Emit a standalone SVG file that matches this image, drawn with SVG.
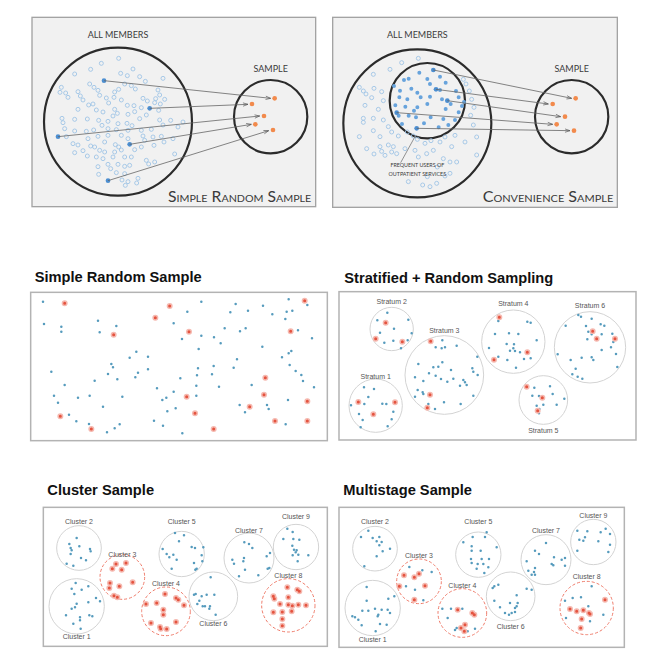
<svg xmlns="http://www.w3.org/2000/svg" xmlns:xlink="http://www.w3.org/1999/xlink" width="659" height="666" viewBox="0 0 659 666">
<style>
.tp{fill:#f1f1f1;stroke:#a3a3a3;stroke-width:4}
.bc{fill:none;stroke:#2b2b2b;stroke-width:6.5}
.tx{font-family:Lato,"Open Sans","Liberation Sans",sans-serif;fill:#3a3a3a;text-anchor:middle;font-size:27px}
.sc{font-family:Lato,"Open Sans","Liberation Sans",sans-serif;fill:#3a3a3a;font-variant:small-caps;font-size:44px}
.o circle{r:6px}
.o{fill:none;stroke:#9cc3e6;stroke-width:2.6}
.org{fill:#f28a4c}
.og{fill:#4d8fd1}
.fd{fill:none;stroke:#67a3dc;stroke-width:12;stroke-linecap:round}
.cn{fill:none;stroke:#666;stroke-width:2.4;marker-end:url(#ah)}
.pn{fill:#fff;stroke:#b3b3b3;stroke-width:4.5}
.tt{font-family:"Liberation Sans",Arial,sans-serif;font-weight:bold;font-size:44px;fill:#111}
.lb{font-family:"Liberation Sans",Arial,sans-serif;font-size:21px;fill:#555;text-anchor:middle}
.cg{fill:none;stroke:#d3d3d3;stroke-width:3}
.cr{fill:none;stroke:#ee7a69;stroke-width:3;stroke-dasharray:9 6}
.bd{fill:none;stroke:#569BBD;stroke-width:7.6;stroke-linecap:round}
.rh{fill:none;stroke:#f5b9b0;stroke-width:18;stroke-linecap:round}
.rc{fill:none;stroke:#e4533f;stroke-width:9;stroke-linecap:round}
</style>
<defs>
<marker id="ah" markerUnits="userSpaceOnUse" markerWidth="16" markerHeight="12" refX="15" refY="5" orient="auto" overflow="visible">
<path d="M0,0 L15,5 L0,10" fill="none" stroke="#555" stroke-width="2"/>
</marker>
</defs>

<!-- Top-left: simple random sample diagram -->
<g id="top-srs" transform="translate(28,10) scale(0.33333)">
<rect class="tp" x="12" y="22" width="851" height="568"/>
<text class="tx" x="270" y="84">ALL MEMBERS</text>
<text class="tx" x="728" y="187">SAMPLE</text>
<circle class="bc" cx="270" cy="335" r="222"/>
<circle class="bc" cx="728" cy="320" r="110"/>
<g class="o">
<circle cx="272" cy="145" r="6"/><circle cx="220" cy="160" r="6"/><circle cx="188" cy="178" r="6"/><circle cx="315" cy="177" r="6"/><circle cx="140" cy="192" r="6"/><circle cx="278" cy="190" r="6"/><circle cx="298" cy="197" r="6"/><circle cx="405" cy="205" r="6"/><circle cx="352" cy="214" r="6"/><circle cx="335" cy="200" r="6"/><circle cx="100" cy="232" r="6"/><circle cx="96" cy="247" r="6"/><circle cx="113" cy="249" r="6"/><circle cx="120" cy="262" r="6"/><circle cx="150" cy="245" r="6"/><circle cx="157" cy="258" r="6"/><circle cx="185" cy="222" r="6"/><circle cx="198" cy="232" r="6"/><circle cx="210" cy="241" r="6"/><circle cx="260" cy="246" r="6"/><circle cx="272" cy="238" r="6"/><circle cx="258" cy="262" r="6"/><circle cx="290" cy="222" r="6"/><circle cx="310" cy="227" r="6"/><circle cx="322" cy="237" r="6"/><circle cx="345" cy="265" r="6"/><circle cx="358" cy="273" r="6"/><circle cx="390" cy="240" r="6"/><circle cx="395" cy="255" r="6"/><circle cx="383" cy="266" r="6"/><circle cx="380" cy="278" r="6"/><circle cx="397" cy="282" r="6"/><circle cx="410" cy="268" r="6"/><circle cx="165" cy="270" r="6"/><circle cx="182" cy="285" r="6"/><circle cx="195" cy="282" r="6"/><circle cx="215" cy="256" r="6"/><circle cx="235" cy="264" r="6"/><circle cx="242" cy="279" r="6"/><circle cx="280" cy="270" r="6"/><circle cx="298" cy="286" r="6"/><circle cx="318" cy="287" r="6"/><circle cx="340" cy="293" r="6"/><circle cx="392" cy="301" r="6"/><circle cx="150" cy="298" r="6"/><circle cx="205" cy="300" r="6"/><circle cx="225" cy="306" r="6"/><circle cx="260" cy="298" r="6"/><circle cx="300" cy="313" r="6"/><circle cx="320" cy="305" r="6"/><circle cx="335" cy="326" r="6"/><circle cx="355" cy="315" r="6"/><circle cx="395" cy="330" r="6"/><circle cx="428" cy="331" r="6"/><circle cx="465" cy="336" r="6"/><circle cx="102" cy="325" r="6"/><circle cx="105" cy="338" r="6"/><circle cx="140" cy="328" r="6"/><circle cx="178" cy="327" r="6"/><circle cx="212" cy="331" r="6"/><circle cx="240" cy="334" r="6"/><circle cx="270" cy="341" r="6"/><circle cx="297" cy="340" r="6"/><circle cx="312" cy="347" r="6"/><circle cx="255" cy="318" r="6"/><circle cx="268" cy="310" r="6"/><circle cx="222" cy="346" r="6"/><circle cx="240" cy="356" r="6"/><circle cx="265" cy="359" r="6"/><circle cx="300" cy="361" r="6"/><circle cx="340" cy="361" r="6"/><circle cx="370" cy="358" r="6"/><circle cx="405" cy="345" r="6"/><circle cx="450" cy="351" r="6"/><circle cx="110" cy="356" r="6"/><circle cx="140" cy="363" r="6"/><circle cx="175" cy="364" r="6"/><circle cx="197" cy="360" r="6"/><circle cx="180" cy="386" r="6"/><circle cx="210" cy="379" r="6"/><circle cx="240" cy="376" r="6"/><circle cx="280" cy="376" r="6"/><circle cx="300" cy="386" r="6"/><circle cx="345" cy="378" r="6"/><circle cx="375" cy="381" r="6"/><circle cx="400" cy="379" r="6"/><circle cx="408" cy="396" r="6"/><circle cx="435" cy="386" r="6"/><circle cx="150" cy="405" r="6"/><circle cx="165" cy="422" r="6"/><circle cx="188" cy="408" r="6"/><circle cx="200" cy="411" r="6"/><circle cx="215" cy="421" r="6"/><circle cx="230" cy="396" r="6"/><circle cx="262" cy="404" r="6"/><circle cx="272" cy="411" r="6"/><circle cx="280" cy="420" r="6"/><circle cx="320" cy="419" r="6"/><circle cx="340" cy="411" r="6"/><circle cx="350" cy="391" r="6"/><circle cx="378" cy="406" r="6"/><circle cx="440" cy="432" r="6"/><circle cx="140" cy="428" r="6"/><circle cx="178" cy="438" r="6"/><circle cx="205" cy="441" r="6"/><circle cx="225" cy="446" r="6"/><circle cx="255" cy="441" r="6"/><circle cx="290" cy="441" r="6"/><circle cx="310" cy="441" r="6"/><circle cx="355" cy="451" r="6"/><circle cx="362" cy="462" r="6"/><circle cx="380" cy="456" r="6"/><circle cx="210" cy="470" r="6"/><circle cx="240" cy="463" r="6"/><circle cx="248" cy="476" r="6"/><circle cx="270" cy="463" r="6"/><circle cx="290" cy="469" r="6"/><circle cx="305" cy="466" r="6"/><circle cx="265" cy="488" r="6"/><circle cx="290" cy="491" r="6"/><circle cx="212" cy="493" r="6"/><circle cx="282" cy="510" r="6"/><circle cx="330" cy="505" r="6"/><circle cx="300" cy="515" r="6"/><circle cx="326" cy="519" r="6"/><circle cx="292" cy="526" r="6"/><circle cx="260" cy="426" r="6"/><circle cx="230" cy="426" r="6"/><circle cx="115" cy="380" r="6"/><circle cx="135" cy="401" r="6"/>
</g>
<g class="og"><circle cx="228" cy="212" r="7"/><circle cx="365" cy="295" r="7"/><circle cx="90" cy="380" r="7"/><circle cx="305" cy="403" r="7"/><circle cx="240" cy="512" r="7"/></g>
<g class="org"><circle cx="740" cy="265" r="7"/><circle cx="672" cy="282" r="7"/><circle cx="708" cy="318" r="7"/><circle cx="682" cy="343" r="7"/><circle cx="735" cy="360" r="7"/></g>
<text class="sc" x="420" y="577" textLength="430" lengthAdjust="spacingAndGlyphs">Simple Random Sample</text>
</g>

<!-- Top-right: convenience sample diagram -->
<g id="top-conv" transform="translate(330,10) scale(0.33333)">
<rect class="tp" x="8" y="22" width="854" height="570"/>
<text class="tx" x="262" y="84">ALL MEMBERS</text>
<text class="tx" x="725" y="187">SAMPLE</text>
<circle class="bc" cx="262" cy="340" r="222"/>
<circle class="bc" cx="292" cy="272" r="113"/>
<circle class="bc" cx="725" cy="320" r="110"/>
<g class="o">
<circle cx="265" cy="145" r="6"/><circle cx="215" cy="158" r="6"/><circle cx="180" cy="178" r="6"/><circle cx="130" cy="193" r="6"/><circle cx="400" cy="208" r="6"/><circle cx="88" cy="232" r="6"/><circle cx="100" cy="243" r="6"/><circle cx="108" cy="252" r="6"/><circle cx="132" cy="235" r="6"/><circle cx="125" cy="263" r="6"/><circle cx="155" cy="245" r="6"/><circle cx="160" cy="272" r="6"/><circle cx="105" cy="286" r="6"/><circle cx="145" cy="298" r="6"/><circle cx="100" cy="325" r="6"/><circle cx="100" cy="337" r="6"/><circle cx="130" cy="325" r="6"/><circle cx="160" cy="330" r="6"/><circle cx="88" cy="380" r="6"/><circle cx="130" cy="362" r="6"/><circle cx="175" cy="350" r="6"/><circle cx="185" cy="366" r="6"/><circle cx="150" cy="380" r="6"/><circle cx="205" cy="378" r="6"/><circle cx="232" cy="366" r="6"/><circle cx="250" cy="378" r="6"/><circle cx="262" cy="388" r="6"/><circle cx="285" cy="400" r="6"/><circle cx="303" cy="392" r="6"/><circle cx="330" cy="396" r="6"/><circle cx="345" cy="381" r="6"/><circle cx="375" cy="376" r="6"/><circle cx="365" cy="410" r="6"/><circle cx="405" cy="396" r="6"/><circle cx="430" cy="345" r="6"/><circle cx="422" cy="316" r="6"/><circle cx="440" cy="435" r="6"/><circle cx="150" cy="410" r="6"/><circle cx="175" cy="405" r="6"/><circle cx="190" cy="410" r="6"/><circle cx="185" cy="426" r="6"/><circle cx="165" cy="436" r="6"/><circle cx="155" cy="424" r="6"/><circle cx="200" cy="431" r="6"/><circle cx="225" cy="416" r="6"/><circle cx="255" cy="421" r="6"/><circle cx="265" cy="441" r="6"/><circle cx="290" cy="431" r="6"/><circle cx="310" cy="421" r="6"/><circle cx="340" cy="446" r="6"/><circle cx="360" cy="456" r="6"/><circle cx="380" cy="456" r="6"/><circle cx="322" cy="471" r="6"/><circle cx="235" cy="515" r="6"/><circle cx="292" cy="500" r="6"/><circle cx="320" cy="520" r="6"/><circle cx="300" cy="530" r="6"/><circle cx="278" cy="525" r="6"/><circle cx="132" cy="432" r="6"/><circle cx="110" cy="416" r="6"/><circle cx="360" cy="490" r="6"/><circle cx="345" cy="498" r="6"/><circle cx="432" cy="292" r="6"/><circle cx="425" cy="268" r="6"/><circle cx="440" cy="381" r="6"/><circle cx="418" cy="243" r="6"/><circle cx="408" cy="222" r="6"/>
</g>
<path class="fd" d="M268,188h0M222,210h0M236,206h0M192,228h0M210,242h0M244,236h0M262,248h0M300,222h0M330,200h0M347,218h0M378,243h0M386,262h0M402,276h0M208,262h0M232,268h0M272,262h0M300,260h0M336,268h0M362,282h0M396,288h0M196,286h0M262,292h0M292,282h0M347,297h0M386,307h0M206,317h0M236,317h0M258,322h0M302,322h0M340,327h0M216,342h0M282,340h0M326,352h0M355,345h0M375,330h0M252,302h0M226,290h0M330,240h0M292,207h0"/>
<g class="og"><circle cx="310" cy="180" r="7"/><circle cx="318" cy="238" r="7"/><circle cx="352" cy="272" r="7"/><circle cx="200" cy="308" r="7"/><circle cx="260" cy="355" r="7"/></g>
<g class="org"><circle cx="737" cy="265" r="7"/><circle cx="668" cy="282" r="7"/><circle cx="705" cy="320" r="7"/><circle cx="680" cy="343" r="7"/><circle cx="732" cy="362" r="7"/></g>
<line x1="212" y1="458" x2="256" y2="378" stroke="#777" stroke-width="2.4"/>
<text class="tx" x="262" y="470" style="font-size:16px">FREQUENT USERS OF</text>
<text class="tx" x="262" y="497" style="font-size:16px">OUTPATIENT SERVICES</text>
<text class="sc" x="458" y="577" textLength="392" lengthAdjust="spacingAndGlyphs">Convenience Sample</text>
</g>

<!-- connectors of the top diagrams -->
<g id="connectors">
<g transform="translate(28,10) scale(0.33333)">
<path class="cn" d="M228,212 L728,265"/>
<path class="cn" d="M365,295 L660,283"/>
<path class="cn" d="M90,380 L695,318"/>
<path class="cn" d="M305,403 L670,343"/>
<path class="cn" d="M240,512 L722,362"/>
</g>
<g transform="translate(330,10) scale(0.33333)">
<path class="cn" d="M310,180 L725,265"/>
<path class="cn" d="M318,238 L655,282"/>
<path class="cn" d="M352,272 L692,320"/>
<path class="cn" d="M200,308 L668,343"/>
<path class="cn" d="M260,355 L720,362"/>
</g>
</g>

<!-- Simple Random Sample panel -->
<g id="panel-srs" transform="translate(28,260) scale(0.33333)">
<text class="tt" x="20" y="65">Simple Random Sample</text>
<rect class="pn" x="8" y="97" width="890" height="445"/>
<path class="bd" d="M45,125h0M48,192h0M100,200h0M100,215h0M210,182h0M215,217h0M265,198h0M70,335h0M110,375h0M78,407h0M90,428h0M150,413h0M185,407h0M200,362h0M240,342h0M250,312h0M255,322h0M268,358h0M305,293h0M325,275h0M360,290h0M360,328h0M330,338h0M322,352h0M283,410h0M225,440h0M123,464h0M145,484h0M183,492h0M237,517h0M260,505h0M275,493h0M378,482h0M405,497h0M463,520h0M418,454h0M443,445h0M437,395h0M403,420h0M415,413h0M387,385h0M457,355h0M505,377h0M505,407h0M507,346h0M510,325h0M552,343h0M557,318h0M573,380h0M617,323h0M627,298h0M512,267h0M520,227h0M558,232h0M578,250h0M462,237h0M437,190h0M478,155h0M520,125h0M607,157h0M623,132h0M660,152h0M705,137h0M733,163h0M590,205h0M636,214h0M653,205h0M703,260h0M762,292h0M782,280h0M790,273h0M785,315h0M803,333h0M820,345h0M825,363h0M858,382h0M780,420h0M717,435h0M722,447h0M671,375h0M635,435h0M651,457h0M773,493h0M782,118h0M776,155h0M793,152h0M772,177h0M810,211h0M838,135h0M852,235h0"/>
<path class="rh" d="M110,130h0M425,138h0M382,173h0M483,215h0M257,224h0M788,214h0M830,122h0M712,353h0M708,404h0M476,410h0M665,440h0M838,424h0M501,460h0M97,469h0M190,507h0M557,507h0M741,483h0M838,483h0"/>
<path class="rc" d="M110,130h0M425,138h0M382,173h0M483,215h0M257,224h0M788,214h0M830,122h0M712,353h0M708,404h0M476,410h0M665,440h0M838,424h0M501,460h0M97,469h0M190,507h0M557,507h0M741,483h0M838,483h0"/>
</g>

<!-- Stratified + Random Sampling panel -->
<g id="panel-strat" transform="translate(335,260) scale(0.33333)">
<text class="tt" x="28" y="68">Stratified + Random Sampling</text>
<rect class="pn" x="12" y="95" width="891" height="445"/>
<g id="stratum-2"><circle class="cg" cx="170" cy="207" r="65"/><text class="lb" x="170" y="132">Stratum 2</text>
<path class="bd" d="M157,158h0M127,181h0M220,179h0M177,206h0M135,218h0M230,220h0M148,248h0M175,242h0M218,241h0M198,265h0"/>
<path class="rh" d="M152,188h0M122,236h0M202,245h0"/><path class="rc" d="M152,188h0M122,236h0M202,245h0"/></g>
<g id="stratum-3"><circle class="cg" cx="328" cy="345" r="118"/><text class="lb" x="328" y="220">Stratum 3</text>
<path class="bd" d="M322,241h0M302,262h0M320,265h0M330,262h0M365,257h0M427,290h0M250,312h0M322,307h0M310,320h0M295,322h0M348,330h0M282,340h0M302,347h0M412,325h0M415,335h0M240,352h0M265,363h0M318,357h0M355,356h0M337,365h0M385,360h0M390,367h0M395,375h0M375,377h0M428,345h0M248,390h0M265,402h0M240,410h0M415,407h0M280,432h0M327,427h0M377,432h0M300,447h0M263,397h0"/>
<path class="rh" d="M287,244h0M285,404h0M277,443h0"/><path class="rc" d="M287,244h0M285,404h0M277,443h0"/></g>
<g id="stratum-1"><circle class="cg" cx="122" cy="437" r="80"/><text class="lb" x="122" y="357">Stratum 1</text>
<path class="bd" d="M87,382h0M117,387h0M100,411h0M48,436h0M88,432h0M142,431h0M154,432h0M72,462h0M175,455h0M83,480h0M170,478h0M77,502h0M158,499h0"/>
<path class="rh" d="M70,426h0M180,427h0M115,463h0"/><path class="rc" d="M70,426h0M180,427h0M115,463h0"/></g>
<g id="stratum-4"><circle class="cg" cx="535" cy="245" r="95"/><text class="lb" x="535" y="138">Stratum 4</text>
<path class="bd" d="M490,183h0M577,185h0M587,188h0M480,222h0M522,220h0M550,222h0M605,241h0M462,264h0M515,252h0M537,253h0M535,265h0M525,272h0M540,273h0M555,277h0M490,290h0M517,300h0M567,297h0M587,295h0M543,323h0"/>
<path class="rh" d="M493,172h0M577,277h0M477,299h0"/><path class="rc" d="M493,172h0M577,277h0M477,299h0"/></g>
<g id="stratum-6"><circle class="cg" cx="765" cy="262" r="107"/><text class="lb" x="765" y="145">Stratum 6</text>
<path class="bd" d="M730,165h0M738,170h0M692,197h0M753,198h0M770,176h0M797,193h0M808,197h0M832,221h0M800,223h0M770,223h0M760,215h0M757,238h0M835,246h0M828,262h0M800,270h0M843,282h0M740,293h0M707,300h0M770,292h0M775,300h0M668,283h0M847,321h0M722,326h0M712,343h0M728,350h0M742,356h0"/>
<path class="rh" d="M773,214h0M785,236h0M840,236h0"/><path class="rc" d="M773,214h0M785,236h0M840,236h0"/></g>
<g id="stratum-5"><circle class="cg" cx="625" cy="420" r="73"/><text class="lb" x="625" y="518">Stratum 5</text>
<path class="bd" d="M598,383h0M645,379h0M592,407h0M612,408h0M653,402h0M688,416h0M605,437h0M625,434h0M665,434h0M613,447h0M612,460h0"/>
<path class="rh" d="M575,380h0M622,413h0M608,452h0"/><path class="rc" d="M575,380h0M622,413h0M608,452h0"/></g>
</g>

<!-- Cluster Sample panel -->
<g id="panel-cluster" transform="translate(40,478) scale(0.33333)">
<text class="tt" x="22" y="50">Cluster Sample</text>
<rect class="pn" x="10" y="88" width="852" height="417"/>
<g id="cs-cluster-2"><circle class="cg" cx="117" cy="210" r="67"/><text class="lb" x="117" y="139">Cluster 2</text>
<path class="bd" d="M110,180h0M88,198h0M118,205h0M92,210h0M95,217h0M150,213h0M152,220h0M92,228h0M123,240h0M138,247h0M80,257h0M100,263h0"/></g>
<g id="cs-cluster-3"><circle class="cr" cx="247" cy="297" r="67"/><text class="lb" x="247" y="237">Cluster 3</text>
<path class="rh" d="M228,258h0M258,255h0M217,272h0M245,275h0M210,315h0M238,325h0M278,313h0M208,330h0M222,353h0M232,358h0"/><path class="rc" d="M228,258h0M258,255h0M217,272h0M245,275h0M210,315h0M238,325h0M278,313h0M208,330h0M222,353h0M232,358h0"/></g>
<g id="cs-cluster-1"><circle class="cg" cx="110" cy="385" r="83"/><text class="lb" x="110" y="482">Cluster 1</text>
<path class="bd" d="M107,315h0M145,325h0M95,332h0M125,335h0M103,348h0M168,360h0M180,370h0M145,373h0M110,377h0M105,388h0M95,392h0M78,412h0M120,418h0M148,412h0M157,415h0M120,427h0M100,437h0M122,452h0"/></g>
<g id="cs-cluster-5"><circle class="cg" cx="425" cy="228" r="68"/><text class="lb" x="425" y="139">Cluster 5</text>
<path class="bd" d="M405,165h0M432,172h0M417,190h0M455,207h0M368,213h0M465,210h0M490,208h0M380,228h0M400,230h0M388,238h0M410,245h0M485,232h0M462,255h0M487,250h0M395,272h0M470,272h0M466,275h0"/></g>
<g id="cs-cluster-4"><circle class="cr" cx="378" cy="400" r="73"/><text class="lb" x="378" y="323">Cluster 4</text>
<path class="rh" d="M318,378h0M350,375h0M375,348h0M408,360h0M415,365h0M432,382h0M370,395h0M370,410h0M333,435h0M360,447h0M362,452h0M380,453h0M408,432h0"/><path class="rc" d="M318,378h0M350,375h0M375,348h0M408,360h0M415,365h0M432,382h0M370,395h0M370,410h0M333,435h0M360,447h0M362,452h0M380,453h0M408,432h0"/></g>
<g id="cs-cluster-6"><circle class="cg" cx="520" cy="355" r="73"/><text class="lb" x="520" y="444">Cluster 6</text>
<path class="bd" d="M512,298h0M462,350h0M467,348h0M485,355h0M500,350h0M523,350h0M478,368h0M472,378h0M488,385h0M495,385h0M510,385h0M508,392h0M527,410h0"/></g>
<g id="cs-cluster-7"><circle class="cg" cx="627" cy="240" r="75"/><text class="lb" x="627" y="165">Cluster 7</text>
<path class="bd" d="M613,193h0M627,198h0M637,210h0M690,225h0M680,235h0M612,240h0M577,245h0M610,250h0M582,257h0M615,275h0M683,272h0M688,270h0M655,292h0M597,295h0"/></g>
<g id="cs-cluster-9"><circle class="cg" cx="768" cy="207" r="68"/><text class="lb" x="768" y="122">Cluster 9</text>
<path class="bd" d="M742,152h0M758,162h0M730,183h0M760,183h0M778,185h0M757,203h0M762,215h0M770,217h0M767,223h0M758,232h0M775,230h0M805,232h0M773,250h0"/></g>
<g id="cs-cluster-8"><circle class="cr" cx="745" cy="382" r="80"/><text class="lb" x="745" y="300">Cluster 8</text>
<path class="rh" d="M742,328h0M772,335h0M778,340h0M700,355h0M703,362h0M745,358h0M720,378h0M745,380h0M757,383h0M775,380h0M798,382h0M700,403h0M727,402h0M755,400h0M727,423h0M727,443h0"/><path class="rc" d="M742,328h0M772,335h0M778,340h0M700,355h0M703,362h0M745,358h0M720,378h0M745,380h0M757,383h0M775,380h0M798,382h0M700,403h0M727,402h0M755,400h0M727,423h0M727,443h0"/></g>
</g>

<!-- Multistage Sample panel -->
<g id="panel-multistage" transform="translate(335,478) scale(0.33333)">
<text class="tt" x="25" y="50">Multistage Sample</text>
<rect class="pn" x="12" y="88" width="856" height="420"/>
<g id="ms-cluster-2"><circle class="cg" cx="120" cy="212" r="67"/><text class="lb" x="120" y="139">Cluster 2</text>
<path class="bd" d="M100,158h0M78,177h0M113,180h0M133,177h0M125,190h0M140,192h0M133,202h0M165,212h0M143,220h0M125,235h0M88,265h0"/></g>
<g id="ms-cluster-3"><circle class="cr" cx="252" cy="310" r="67"/><text class="lb" x="252" y="239">Cluster 3</text>
<path class="bd" d="M223,267h0M262,277h0M290,282h0M213,325h0M240,335h0M265,367h0"/>
<path class="rh" d="M207,292h0M238,298h0M252,287h0M193,325h0M270,323h0M238,365h0"/><path class="rc" d="M207,292h0M238,298h0M252,287h0M193,325h0M270,323h0M238,365h0"/></g>
<g id="ms-cluster-1"><circle class="cg" cx="113" cy="390" r="83"/><text class="lb" x="113" y="492">Cluster 1</text>
<path class="bd" d="M95,327h0M160,362h0M178,355h0M95,368h0M82,398h0M100,398h0M120,392h0M140,395h0M158,395h0M165,405h0M130,410h0M128,415h0M52,415h0M60,418h0M70,425h0M80,442h0M135,438h0M155,440h0M122,460h0"/></g>
<g id="ms-cluster-5"><circle class="cg" cx="430" cy="230" r="68"/><text class="lb" x="430" y="139">Cluster 5</text>
<path class="bd" d="M455,163h0M413,177h0M450,177h0M385,193h0M410,205h0M485,208h0M410,218h0M437,218h0M408,243h0M440,243h0M462,243h0M410,255h0M428,258h0M445,258h0M460,268h0M425,272h0M448,285h0"/></g>
<g id="ms-cluster-4"><circle class="cr" cx="382" cy="405" r="73"/><text class="lb" x="382" y="329">Cluster 4</text>
<path class="bd" d="M322,392h0M348,392h0M338,420h0M382,392h0M365,450h0M360,456h0M398,460h0M420,452h0"/>
<path class="rh" d="M368,395h0M412,405h0M418,410h0M390,440h0M378,450h0M388,460h0"/><path class="rc" d="M368,395h0M412,405h0M418,410h0M390,440h0M378,450h0M388,460h0"/></g>
<g id="ms-cluster-6"><circle class="cg" cx="527" cy="355" r="73"/><text class="lb" x="527" y="452">Cluster 6</text>
<path class="bd" d="M478,325h0M490,320h0M473,330h0M575,332h0M590,335h0M545,352h0M478,368h0M525,375h0M545,385h0M495,388h0M540,390h0M540,402h0M510,405h0M522,410h0M530,405h0M548,375h0"/></g>
<g id="ms-cluster-7"><circle class="cg" cx="633" cy="245" r="75"/><text class="lb" x="633" y="165">Cluster 7</text>
<path class="bd" d="M633,195h0M600,218h0M612,228h0M657,238h0M680,245h0M690,240h0M575,250h0M650,258h0M655,262h0M690,263h0M600,270h0M580,278h0M597,282h0M590,290h0M600,290h0"/></g>
<g id="ms-cluster-9"><circle class="cg" cx="775" cy="192" r="68"/><text class="lb" x="775" y="120">Cluster 9</text>
<path class="bd" d="M812,152h0M727,158h0M757,160h0M797,163h0M825,168h0M750,178h0M733,185h0M745,188h0M790,190h0M825,200h0M727,218h0M820,222h0"/></g>
<g id="ms-cluster-8"><circle class="cr" cx="755" cy="390" r="80"/><text class="lb" x="755" y="304">Cluster 8</text>
<path class="bd" d="M770,325h0M713,360h0M738,358h0M690,368h0M760,385h0M693,420h0M805,410h0M765,430h0"/>
<path class="rh" d="M810,365h0M705,393h0M725,400h0M745,397h0M762,405h0M765,408h0M740,423h0M737,450h0"/><path class="rc" d="M810,365h0M705,393h0M725,400h0M745,397h0M762,405h0M765,408h0M740,423h0M737,450h0"/></g>
</g>
</svg>
